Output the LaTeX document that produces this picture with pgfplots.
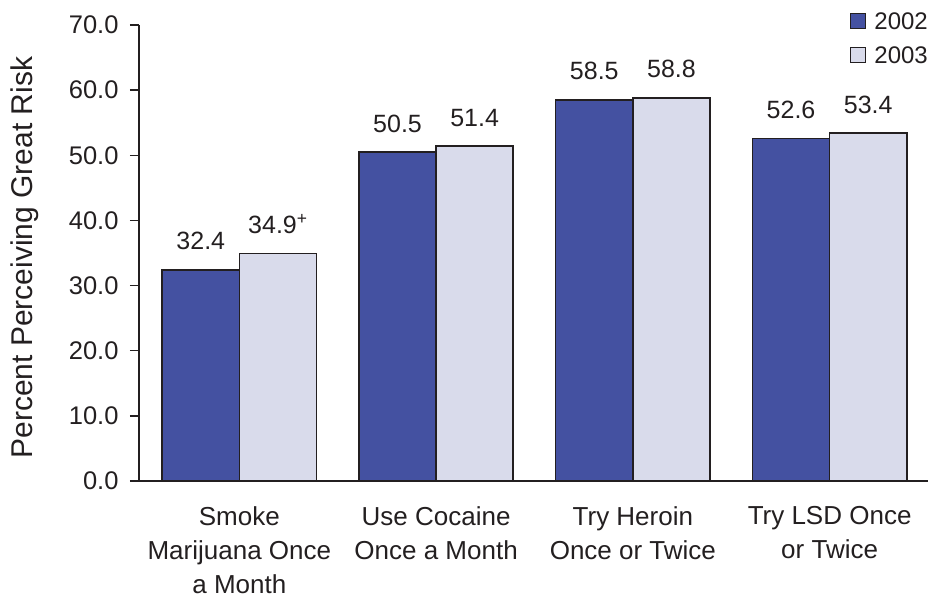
\documentclass[border=0pt]{standalone}
\usepackage{pgfplots}
\pgfplotsset{compat=1.18}
\usepackage{fontspec}
\setmainfont{Liberation Sans}
\definecolor{darkbar}{RGB}{68,81,161}
\definecolor{lightbar}{RGB}{217,219,235}
\definecolor{ink}{RGB}{35,31,32}
\begin{document}
\begin{tikzpicture}
\begin{axis}[
  scale only axis, width=789pt, height=456pt,
  xmin=-0.51, xmax=3.5, ymin=0, ymax=70,
  axis lines*=left,
  axis line style={ink, line width=1.3pt},
  /pgf/number format/assume math mode=true,
  ytick={0,10,...,70},
  y tick label style={/pgf/number format/.cd, fixed, fixed zerofill, precision=1, /tikz/.cd, font=\fontsize{25.5}{30}\selectfont, text=ink, xshift=-8pt},
  tick align=outside, major tick length=9pt,
  ytick style={ink, line width=1.3pt},
  xtick={0,1,2,3}, xtick style={draw=none},
  xticklabels={Smoke\\Marijuana Once\\a Month, Use Cocaine\\Once a Month, Try Heroin\\Once or Twice, Try LSD Once\\or Twice},
  x tick label style={align=center, font=\fontsize{26}{34}\selectfont, text=ink, yshift=-13pt},
  ylabel={Percent Perceiving Great Risk},
  ylabel style={at={(axis description cs:-0.1445,0.49)}, anchor=center, font=\fontsize{30}{35}\selectfont, text=ink},
  ybar, bar width=0.392,
  clip=false,
  nodes near coords, point meta=explicit symbolic,
  nodes near coords style={anchor=base, yshift=20pt, font=\fontsize{25}{29}\selectfont, text=ink},
  legend style={at={(1,1)}, anchor=north east, yshift=12.75pt, draw=none, fill=none, inner sep=0pt,
    font=\fontsize{24}{28}\selectfont, text=ink, row sep=16.5pt, /tikz/column sep=8pt,
    nodes={inner sep=0pt, text height=17.5pt, text depth=0pt}},
  legend cell align=left,
  legend image code/.code={\draw[#1, line width=1.2pt] (0pt,-7.5pt) rectangle (15pt,7.5pt);},
]
\coordinate (sw) at (rel axis cs:0,0);
\addplot[fill=darkbar, draw=ink, line width=1.5pt, bar shift=-0.196]
  coordinates {(0,32.4) [32.4] (1,50.5) [50.5] (2,58.5) [58.5] (3,52.6) [52.6]};
\addplot[fill=lightbar, draw=ink, line width=1.5pt, bar shift=0.196]
  coordinates {(0,34.9) [34.9\textsuperscript{+}] (1,51.4) [51.4] (2,58.8) [58.8] (3,53.4) [53.4]};
\legend{2002,2003}
\end{axis}
\pgfresetboundingbox
\path (sw) ++(-139pt,-118pt) rectangle ++(932pt,599pt);
\end{tikzpicture}
\end{document}
